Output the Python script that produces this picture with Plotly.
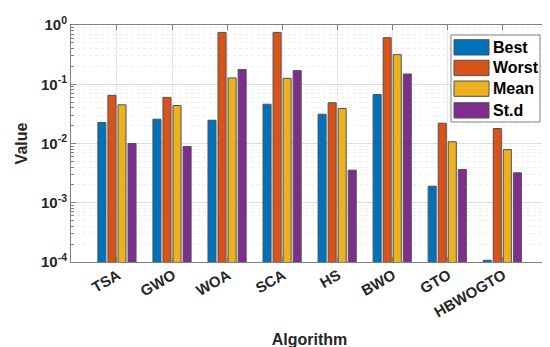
import plotly.graph_objects as go

algorithms = ["TSA", "GWO", "WOA", "SCA", "HS", "BWO", "GTO", "HBWOGTO"]
series_names = ["Best", "Worst", "Mean", "St.d"]
best = [0.0226, 0.0257, 0.0247, 0.046, 0.0312, 0.067, 0.0019, 0.000107]
worst = [0.065, 0.060, 0.75, 0.75, 0.0486, 0.61, 0.022, 0.0179]
mean = [0.045, 0.0437, 0.128, 0.126, 0.039, 0.316, 0.0107, 0.0079]
std = [0.0100, 0.0089, 0.177, 0.170, 0.00355, 0.149, 0.00365, 0.0032]
colors = ["#0072BD", "#D95319", "#EDB120", "#7E2F8E"]
ytick_vals = [1e-4, 1e-3, 1e-2, 1e-1, 1e0]
ytick_text = ["<b>10<sup>-4</sup></b>", "<b>10<sup>-3</sup></b>", "<b>10<sup>-2</sup></b>",
              "<b>10<sup>-1</sup></b>", "<b>10<sup>0</sup></b>"]
minor_vals = [k * 10.0 ** e for e in range(-4, 0) for k in range(2, 10)]

FONT = "Liberation Sans, Arial, sans-serif"
W, H = 550, 347
L, R, T, B = 63, 540, 17, 254

fig = go.Figure()
xs = list(range(1, len(algorithms) + 1))
for name, vals, c in zip(series_names, [best, worst, mean, std], colors):
    fig.add_trace(go.Bar(x=xs, y=vals, name=name, marker=dict(color=c, line=dict(color="#505050", width=1)),
                         showlegend=False))

def px(x):
    return (x - L) / (R - L)

def py(y):
    return (B - y) / (B - T)

shapes = []
annotations = []
# legend box
shapes.append(dict(type="rect", xref="paper", yref="paper", x0=px(443), x1=px(532), y0=py(114), y1=py(27),
                   line=dict(color="#808080", width=1), fillcolor="white", layer="above"))
sw_tops = [31.7, 52.3, 73.0, 94.7]
for name, c, top in zip(series_names, colors, sw_tops):
    shapes.append(dict(type="rect", xref="paper", yref="paper", x0=px(446), x1=px(481), y0=py(top + 15.3), y1=py(top),
                       line=dict(color="#505050", width=1), fillcolor=c, layer="above"))
    annotations.append(dict(xref="paper", yref="paper", x=px(483), y=py(top + 7.5), text="<b>%s</b>" % name,
                            showarrow=False, xanchor="left", yanchor="middle",
                            font=dict(family=FONT, size=16, color="black")))

fig.update_layout(
    width=W, height=H,
    margin=dict(l=L, r=W - R, t=T, b=H - B),
    paper_bgcolor="white", plot_bgcolor="white",
    barmode="group", bargap=0.27, bargroupgap=0.2,
    font=dict(family=FONT, color="#262626"),
    shapes=shapes, annotations=annotations,
    xaxis=dict(
        range=[0.165, 8.83], tickvals=xs, ticktext=["<b>%s</b>" % a for a in algorithms],
        tickangle=-30, tickfont=dict(family=FONT, size=15, color="#262626"),
        ticks="inside", ticklen=5, tickcolor="#808080",
        ticklabelshift=1, ticklabelstandoff=-2, automargin=False,
        showline=True, linecolor="#808080", linewidth=1, mirror="ticks",
        showgrid=True, gridcolor="#e6e6e6", gridwidth=1,
        title=dict(text="<b>Algorithm</b>", font=dict(family=FONT, size=16, color="#262626"), standoff=14),
        zeroline=False,
    ),
    yaxis=dict(
        type="log", range=[-4, 0], tickvals=ytick_vals, ticktext=ytick_text,
        tickfont=dict(family=FONT, size=15, color="#262626"),
        ticks="inside", ticklen=5, tickcolor="#808080",
        automargin=False,
        showline=True, linecolor="#808080", linewidth=1, mirror="ticks",
        showgrid=True, gridcolor="#dcdcdc", gridwidth=1,
        minor=dict(tickvals=minor_vals, ticks="inside", ticklen=3, tickcolor="#808080",
                   showgrid=True, gridcolor="#eeeeee", griddash="dot"),
        title=dict(text="<b>Value</b>", font=dict(family=FONT, size=16, color="#262626"), standoff=9),
        zeroline=False,
    ),
)

fig.write_html("out.html")
